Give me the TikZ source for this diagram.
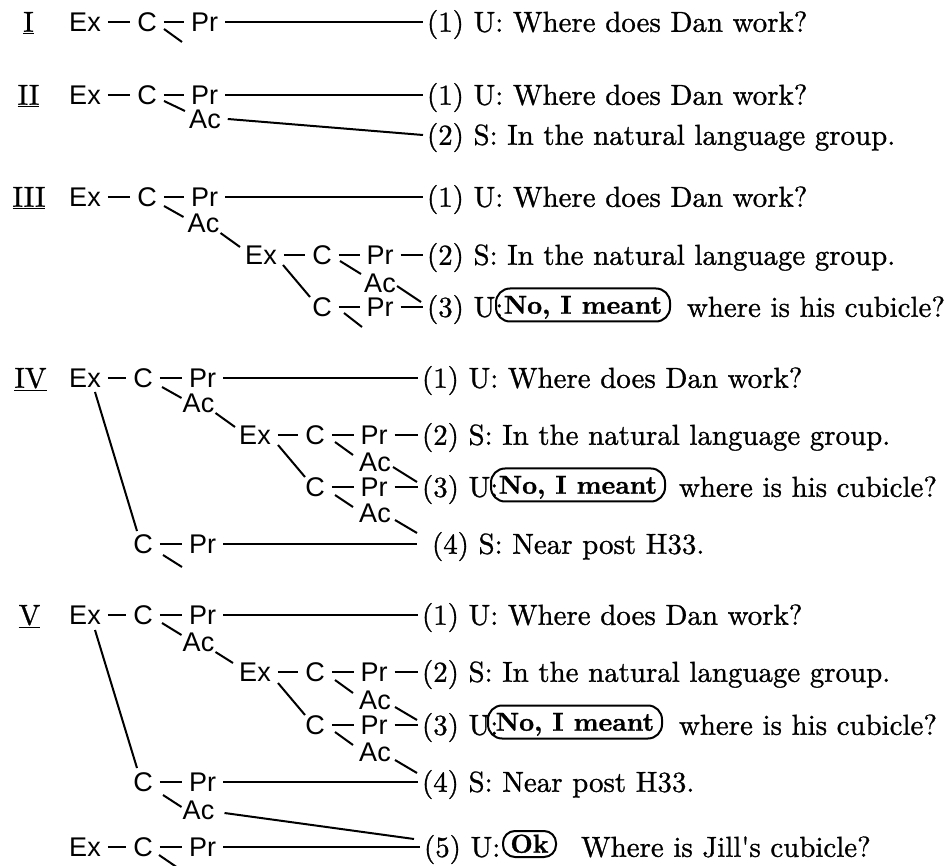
\documentclass[tikz,border=0pt]{standalone}
\usepackage{fontspec}
\setsansfont{Liberation Sans}
\newfontfamily\uttfont{lmroman10-regular.otf}[BoldFont=lmroman10-bold.otf, FakeBold=1]
\usetikzlibrary{calc}
\tikzset{
  lab/.style={font=\sffamily\fontsize{27}{30}\selectfont, inner sep=0pt,
    outer xsep=7pt, outer ysep=0pt, text height=19.3pt, text depth=0pt},
  utt/.style={font=\uttfont\fontsize{28.9}{34}\selectfont, inner sep=0pt,
    outer xsep=4pt, outer ysep=0pt, text height=19.6pt, text depth=0pt, anchor=west},
  said/.style={draw, line width=2pt, rounded corners=14pt,
    font=\uttfont\bfseries\fontsize{26}{30}\selectfont, inner sep=0pt,
    minimum width=174pt, minimum height=33pt, text height=17.5pt, text depth=0pt, anchor=west},
  num/.style={font=\uttfont\fontsize{28.9}{34}\selectfont, inner sep=0pt,
    text height=19.6pt, text depth=0pt},
  link/.style={line width=2pt},
}
\begin{document}
\begin{tikzpicture}[x=1pt,y=-1pt]
\useasboundingbox (0,0) rectangle (951,866);

% ---------------- I ----------------
\node[num] (nI) at (28.5,22) {\underline{I}};
\node[lab] (aEx) at (85,22) {Ex};
\node[lab] (aC) at (147,22) {C};
\node[lab] (aPr) at (204.5,22) {Pr};
\node[utt] (aT1) at (423,22) {(1) U: Where does Dan work?};
\coordinate (aCx) at ($(aC)+(35,20)$);
\draw[link] (aEx) -- (aC);
\draw[link] (aC) -- (aPr);
\draw[link] (aPr) -- (aT1);
\draw[link] ($(aC)+(17,7)$) -- (aCx);

% ---------------- II ----------------
\node[num] (nII) at (28.5,95) {\underline{II}};
\node[lab] (bEx) at (85,95) {Ex};
\node[lab] (bC) at (147,95) {C};
\node[lab] (bPr) at (204.5,95) {Pr};
\node[lab] (bAc) at (205,119) {Ac};
\node[utt] (bT1) at (423,95) {(1) U: Where does Dan work?};
\node[utt] (bT2) at (423,135) {(2) S: In the natural language group.};
\draw[link] (bEx) -- (bC);
\draw[link] (bC) -- (bPr);
\draw[link] (bPr) -- (bT1);
\draw[link] ($(bC)+(17,6)$) -- ($(bAc)+(-20,-8)$);
\draw[link] (bAc.east) -- (bT2.west);

% ---------------- III ----------------
\node[num] (nIII) at (29,197) {\underline{III}};
\node[lab] (cEx) at (85,197) {Ex};
\node[lab] (cC) at (147,197) {C};
\node[lab] (cPr) at (204.5,197) {Pr};
\node[lab] (cAc) at (203.5,223) {Ac};
\node[lab] (cEx2) at (261,255) {Ex};
\node[lab] (cC2) at (322,255) {C};
\node[lab] (cPr2) at (380,255) {Pr};
\node[lab] (cAc2) at (380,283) {Ac};
\node[lab] (cC3) at (322,307) {C};
\node[lab] (cPr3) at (380,307) {Pr};
\node[utt] (cT1) at (423,197) {(1) U: Where does Dan work?};
\node[utt] (cT2) at (423,255) {(2) S: In the natural language group.};
\node[utt] (cT3) at (423,307) {(3) U:};
\node[said] (cSaid) at (495,305) {No, I meant};
\node[utt] (cT3b) at (683,307) {where is his cubicle?};
\coordinate (cC3x) at ($(cC3)+(40,20)$);
\draw[link] (cEx) -- (cC);
\draw[link] (cC) -- (cPr);
\draw[link] (cPr) -- (cT1);
\draw[link] ($(cC)+(17,9)$) -- ($(cAc)+(-20,-6)$);
\draw[link] ($(cAc)+(17,10)$) -- ($(cEx2)+(-21,-8)$);
\draw[link] (cEx2) -- (cC2);
\draw[link] (cC2) -- (cPr2);
\draw[link] (cPr2) -- (cT2);
\draw[link] ($(cC2)+(18,6)$) -- ($(cAc2)+(-19,-9)$);
\draw[link] ($(cAc2)+(17,3)$) -- ($(cT3.west)+(-2,-5)$);
\draw[link] ($(cEx2)+(22,10)$) -- ($(cC3)+(-12,-10)$);
\draw[link] (cC3) -- (cPr3);
\draw[link] (cPr3) -- (cT3);
\draw[link] ($(cC3)+(22,6)$) -- (cC3x);

% ---------------- IV ----------------
\node[num] (nIV) at (30.5,378) {\underline{IV}};
\node[lab] (dEx) at (85,378) {Ex};
\node[lab] (dC) at (143,378) {C};
\node[lab] (dPr) at (202.5,378) {Pr};
\node[lab] (dAc) at (198.5,403) {Ac};
\node[lab] (dEx2) at (255,435) {Ex};
\node[lab] (dC2) at (315,435) {C};
\node[lab] (dPr2) at (374,435) {Pr};
\node[lab] (dAc2) at (375,462) {Ac};
\node[lab] (dC3) at (315,487) {C};
\node[lab] (dPr3) at (374,487) {Pr};
\node[lab] (dAc3) at (375,513) {Ac};
\node[lab] (dC4) at (143,544) {C};
\node[lab] (dPr4) at (202.5,544) {Pr};
\node[utt] (dT1) at (418,378) {(1) U: Where does Dan work?};
\node[utt] (dT2) at (418,435) {(2) S: In the natural language group.};
\node[utt] (dT3) at (418,487) {(3) U:};
\node[said] (dSaid) at (490,485) {No, I meant};
\node[utt] (dT3b) at (675,487) {where is his cubicle?};
\node[utt] (dT4) at (428,544) {(4) S: Near post H33.};
\coordinate (dC4x) at ($(dC4)+(39,23)$);
\draw[link] (dEx) -- (dC);
\draw[link] (dC) -- (dPr);
\draw[link] (dPr) -- (dT1);
\draw[link] ($(dC)+(19,9)$) -- ($(dAc)+(-17,-5)$);
\draw[link] ($(dAc)+(17,10)$) -- ($(dEx2)+(-20,-8)$);
\draw[link] (dEx2) -- (dC2);
\draw[link] (dC2) -- (dPr2);
\draw[link] (dPr2) -- (dT2);
\draw[link] ($(dC2)+(20,7)$) -- ($(dAc2)+(-22,-7)$);
\draw[link] ($(dAc2)+(18,5)$) -- ($(dT3.west)+(-1,-5)$);
\draw[link] ($(dEx2)+(23,10)$) -- ($(dC3)+(-10,-10)$);
\draw[link] (dC3) -- (dPr3);
\draw[link] (dPr3) -- (dT3);
\draw[link] ($(dC3)+(20,8)$) -- ($(dAc3)+(-22,-6)$);
\draw[link] ($(dAc3)+(20,7)$) -- ($(dT4.west)+(-11,-11)$);
\draw[link] ($(dEx)+(10,14)$) -- ($(dC4)+(-6,-13)$);
\draw[link] (dC4) -- (dPr4);
\draw[link] (dPr4.east) -- ($(dT4.west)+(-11,0)$);
\draw[link] ($(dC4)+(20,11)$) -- (dC4x);

% ---------------- V ----------------
\node[num] (nV) at (29.5,615) {\underline{V}};
\node[lab] (eEx) at (85,615) {Ex};
\node[lab] (eC) at (143,615) {C};
\node[lab] (ePr) at (202.5,615) {Pr};
\node[lab] (eAc) at (198.5,642) {Ac};
\node[lab] (eEx2) at (255,672) {Ex};
\node[lab] (eC2) at (315,672) {C};
\node[lab] (ePr2) at (374,672) {Pr};
\node[lab] (eAc2) at (375,700) {Ac};
\node[lab] (eC3) at (315,725) {C};
\node[lab] (ePr3) at (374,725) {Pr};
\node[lab] (eAc3) at (375,752) {Ac};
\node[lab] (eC4) at (143,782) {C};
\node[lab] (ePr4) at (202.5,782) {Pr};
\node[lab] (eAc4) at (198.5,810) {Ac};
\node[lab] (eEx5) at (85,847) {Ex};
\node[lab] (eC5) at (143,847) {C};
\node[lab] (ePr5) at (202.5,847) {Pr};
\node[utt] (eT1) at (418,615) {(1) U: Where does Dan work?};
\node[utt] (eT2) at (418,672) {(2) S: In the natural language group.};
\node[utt] (eT3) at (418,725) {(3) U:};
\node[said] (eSaid) at (487,722) {No, I meant};
\node[utt] (eT3b) at (675,725) {where is his cubicle?};
\node[utt] (eT4) at (418,782) {(4) S: Near post H33.};
\node[utt] (eT5) at (420,847) {(5) U:};
\node[said, minimum width=53pt, minimum height=26pt, rounded corners=12pt] (eOk) at (502,844) {Ok};
\node[utt] (eT5b) at (577,847) {Where is Jill\textquotesingle s cubicle?};
\coordinate (eC5x) at ($(eC5)+(35,21)$);
\draw[link] (eEx) -- (eC);
\draw[link] (eC) -- (ePr);
\draw[link] (ePr) -- (eT1);
\draw[link] ($(eC)+(19,8)$) -- ($(eAc)+(-17,-7)$);
\draw[link] ($(eAc)+(17,10)$) -- ($(eEx2)+(-22,-9)$);
\draw[link] (eEx2) -- (eC2);
\draw[link] (eC2) -- (ePr2);
\draw[link] (ePr2) -- (eT2);
\draw[link] ($(eC2)+(20,8)$) -- ($(eAc2)+(-22,-7)$);
\draw[link] ($(eAc2)+(20,7)$) -- ($(eT3.west)+(-1,-5)$);
\draw[link] ($(eEx2)+(23,11)$) -- ($(eC3)+(-10,-10)$);
\draw[link] (eC3) -- (ePr3);
\draw[link] (ePr3) -- (eT3);
\draw[link] ($(eC3)+(20,7)$) -- ($(eAc3)+(-22,-7)$);
\draw[link] ($(eAc3)+(20,8)$) -- ($(eT4.west)+(-1,-9)$);
\draw[link] ($(eEx)+(10,15)$) -- ($(eC4)+(-6,-14)$);
\draw[link] (eC4) -- (ePr4);
\draw[link] (ePr4) -- (eT4);
\draw[link] ($(eC4)+(20,13)$) -- ($(eAc4)+(-17,-3)$);
\draw[link] ($(eAc4)+(26,3)$) -- ($(eT5.west)+(-6,-8)$);
\draw[link] (eEx5) -- (eC5);
\draw[link] (eC5) -- (ePr5);
\draw[link] (ePr5) -- (eT5);
\draw[link] ($(eC5)+(16,8)$) -- (eC5x);
\end{tikzpicture}
\end{document}
